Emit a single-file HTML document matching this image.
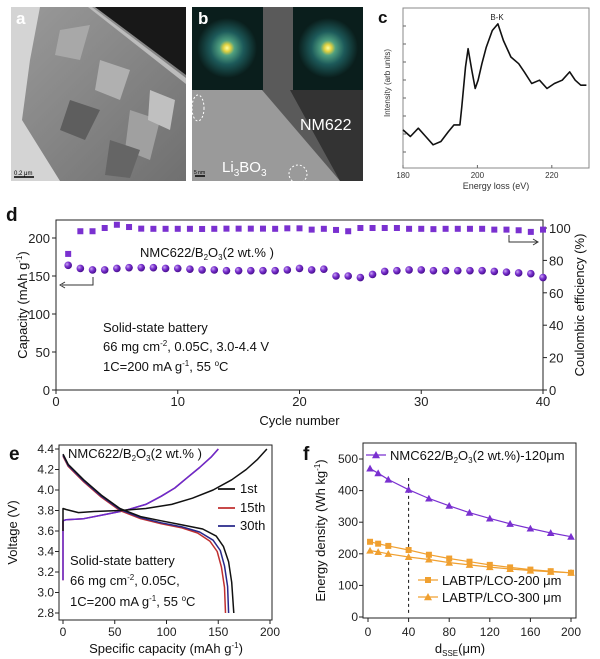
<!DOCTYPE html>
<html><head><meta charset="utf-8"><style>
html,body{margin:0;padding:0;background:#fff}
svg{display:block;font-family:"Liberation Sans",Arial,sans-serif}
</style></head><body>
<svg id="fig" width="600" height="659" viewBox="0 0 600 659" xmlns="http://www.w3.org/2000/svg">
<defs>
<radialGradient id="fft" cx="50%" cy="50%" r="50%"><stop offset="0" stop-color="#ffffa0"/><stop offset="0.12" stop-color="#e0d040"/><stop offset="0.25" stop-color="#50a080"/><stop offset="0.55" stop-color="#1d5a5a"/><stop offset="1" stop-color="#0a1e1c"/></radialGradient>
<radialGradient id="ball" cx="35%" cy="35%" r="65%"><stop offset="0" stop-color="#c9a8f0"/><stop offset="0.5" stop-color="#7a30d0"/><stop offset="1" stop-color="#4a1090"/></radialGradient>
<linearGradient id="agrad" x1="0" y1="0" x2="1" y2="1"><stop offset="0" stop-color="#9a9a9a"/><stop offset="1" stop-color="#707070"/></linearGradient>
</defs>

<g>
<rect x="11" y="7" width="175" height="174" fill="url(#agrad)"/>
<polygon points="11,7 40,7 30,60 22,120 60,181 11,181" fill="#d4d4d4"/>
<polygon points="95,7 186,7 186,75" fill="#181818"/>
<polygon points="92,7 186,78 186,84 88,7" fill="#bcbcbc"/>
<polygon points="60,30 90,25 80,60 55,55" fill="#a8a8a8"/>
<polygon points="100,60 130,70 120,100 95,90" fill="#b0b0b0"/>
<polygon points="70,100 100,110 85,140 60,130" fill="#5e5e5e"/>
<polygon points="130,110 160,120 150,160 125,150" fill="#a0a0a0"/>
<polygon points="110,140 140,150 130,178 105,175" fill="#656565"/>
<polygon points="150,90 175,100 170,130 148,120" fill="#c0c0c0"/>
<text x="16" y="24" font-size="17" font-weight="bold" fill="#fff">a</text>
<line x1="14" y1="177" x2="34" y2="177" stroke="#000" stroke-width="1.5"/>
<text x="14" y="175" font-size="6" fill="#000">0.2 μm</text>
</g>

<g>
<rect x="192" y="7" width="171" height="174" fill="#9a9a9a"/>
<polygon points="262,7 363,7 363,181 340,181 262,90" fill="#5a5a5a"/>
<polygon points="290,90 363,90 363,181 340,181" fill="#333"/>
<rect x="192" y="7" width="71" height="83" fill="#0a1e1c"/>
<circle cx="227" cy="48" r="30" fill="url(#fft)"/>
<rect x="293" y="7" width="70" height="83" fill="#0a1e1c"/>
<circle cx="328" cy="48" r="30" fill="url(#fft)"/>
<ellipse cx="198" cy="108" rx="6" ry="13" fill="none" stroke="#fff" stroke-dasharray="2,2"/>
<ellipse cx="298" cy="174" rx="9" ry="9" fill="none" stroke="#fff" stroke-dasharray="2,2"/>
<text x="198" y="24" font-size="17" font-weight="bold" fill="#fff">b</text>
<text x="300" y="130" font-size="16" fill="#fff">NM622</text>
<text x="222" y="172" font-size="15" fill="#fff">Li<tspan font-size="10" dy="4">3</tspan><tspan dy="-4">BO</tspan><tspan font-size="10" dy="4">3</tspan></text>
<line x1="195" y1="176" x2="205" y2="176" stroke="#000" stroke-width="1.5"/>
<text x="194" y="174" font-size="5" fill="#000">5 nm</text>
</g>

<g id="pc"></g>
<g id="pd"></g>
<g id="pe"></g>
<g id="pf"></g>
</svg>
<script>
const eelsEnergy=[180.0,182.0,184.1,186.1,188.1,190.2,192.2,193.7,195.3,195.8,196.8,197.5,198.5,199.4,200.2,201.2,202.4,204.0,205.5,207.0,209.0,211.1,212.6,214.6,216.7,218.7,220.7,222.8,224.8,226.3,227.8,229.3];
const eelsIntensity=[115,95,120,95,70,80,110,130,130,185,305,360,295,240,265,315,365,415,435,385,335,315,290,255,265,240,255,265,290,265,250,250];
const eelsTicks=[180,200,220];

const cycles=[1,2,3,4,5,6,7,8,9,10,11,12,13,14,15,16,17,18,19,20,21,22,23,24,25,26,27,28,29,30,31,32,33,34,35,36,37,38,39,40];
const capacity=[164,160,158,158,160,161,161,161,160,160,159,158,158,157,157,157,157,157,158,160,158,159,150,150,148,152,156,157,158,158,157,157,157,157,157,156,155,154,153,148];
const coulombic=[84,98,98,100,102,100.6,99.6,99.5,99.5,99.5,99.5,99.4,99.5,99.6,99.6,99.6,99.6,99.5,99.8,99.8,99,99.5,98.8,98,100,100,100,100,99.5,99.5,99.3,99.5,99.5,99.5,99.5,99,99,98.6,97.6,99];
const dXTicks=[0,10,20,30,40];
const dYTicks=[0,50,100,150,200];
const dY2Ticks=[0,20,40,60,80,100];

const ch1Cap=[0,0,3,15,30,55,80,105,125,145,163,177,188,197];
const ch1V=[3.6,3.82,3.81,3.78,3.79,3.80,3.82,3.86,3.92,4.00,4.10,4.20,4.30,4.40];
const chNCap=[0,0,3,20,40,60,80,95,108,120,132,143,150];
const chNV=[3.12,3.70,3.71,3.72,3.76,3.80,3.86,3.94,4.02,4.12,4.22,4.32,4.40];
const dis1Cap=[0,5,20,37,55,75,95,115,135,148,155,160,163,165];
const dis1V=[4.35,4.25,4.10,3.95,3.82,3.74,3.70,3.66,3.62,3.55,3.45,3.30,3.10,2.80];
const dis15Cap=[0,5,20,37,55,75,95,115,130,142,149,153,156,157];
const dis15V=[4.33,4.23,4.08,3.93,3.80,3.72,3.67,3.63,3.58,3.50,3.40,3.25,3.05,2.80];
const dis30Cap=[0,5,20,37,55,75,95,115,132,145,152,156,159,160];
const dis30V=[4.34,4.24,4.09,3.94,3.81,3.73,3.68,3.64,3.59,3.51,3.41,3.26,3.06,2.80];
const eXTicks=[0,50,100,150,200];
const eYTicks=[2.8,3.0,3.2,3.4,3.6,3.8,4.0,4.2,4.4];

const dSSE=[2,10,20,40,60,80,100,120,140,160,180,200];
const nmcEnergy=[470,455,435,403,375,352,330,312,295,280,266,254];
const lco200Energy=[238,232,225,212,197,185,175,165,157,150,145,140];
const lco300Energy=[210,206,200,190,182,172,165,158,152,147,143,140];
const fXTicks=[0,40,80,120,160,200];
const fYTicks=[0,100,200,300,400,500];

const NS="http://www.w3.org/2000/svg";
function mk(parent,tag,attrs,text){const e=document.createElementNS(NS,tag);for(const k in attrs)e.setAttribute(k,attrs[k]);if(text!==undefined)e.textContent=text;parent.appendChild(e);return e;}
function lin(d0,d1,r0,r1){return v=>r0+(v-d0)/(d1-d0)*(r1-r0);}
function path(xs,ys,fx,fy){return xs.map((x,i)=>(i?'L':'M')+fx(x).toFixed(1)+','+fy(ys[i]).toFixed(1)).join('');}

(function(){
const g=document.getElementById('pc');
const L=403,R=589,T=8,B=168;
const x=lin(180,230,L,R), y=lin(0,483,B,T);
let e=mk(g,'rect',{x:L,y:T,width:R-L,height:B-T,fill:'none',stroke:'#888','stroke-width':1});


eelsTicks.forEach(t=>{mk(g,'line',{x1:x(t),y1:B,x2:x(t),y2:B-3,stroke:'#666'});
 let tx=mk(g,'text',{x:x(t),y:B+10,'font-size':8,'text-anchor':'middle',fill:'#333'},t);
 
 });
for(let i=1;i<9;i++){mk(g,'line',{x1:L,y1:T+i*18,x2:L+3,y2:T+i*18,stroke:'#666'});}
let p=mk(g,'path',{d:path(eelsEnergy,eelsIntensity,x,y),fill:'none',stroke:'#111','stroke-width':1.6,'stroke-linejoin':'round'});


let t=mk(g,'text',{x:(L+R)/2,y:B+21,'font-size':9,'text-anchor':'middle',fill:'#333'},'Energy loss (eV)');


t=mk(g,'text',{x:0,y:0,'font-size':8,'text-anchor':'middle',fill:'#333',transform:`translate(${L-13},${(T+B)/2-5}) rotate(-90)`},'Intensity (arb units)');


t=mk(g,'text',{x:497,y:20,'font-size':8,'text-anchor':'middle',fill:'#222'},'B-K');


t=mk(g,'text',{x:378,y:23,'font-size':17,'font-weight':'bold',fill:'#111'},'c');


})();

(function(){
const g=document.getElementById('pd');
const L=56,R=543,T=220,B=390;
const x=lin(0,40,L,R), y=lin(0,200,B,238), y2=lin(0,100,B,228);
let e=mk(g,'rect',{x:L,y:T,width:R-L,height:B-T,fill:'none',stroke:'#222','stroke-width':1});


dXTicks.forEach(t=>{mk(g,'line',{x1:x(t),y1:B,x2:x(t),y2:B+4,stroke:'#222'});
 let tx=mk(g,'text',{x:x(t),y:B+16,'font-size':13,'text-anchor':'middle',fill:'#222'},t);
 
 });
dYTicks.forEach(t=>{mk(g,'line',{x1:L,y1:y(t),x2:L-4,y2:y(t),stroke:'#222'});
 let tx=mk(g,'text',{x:L-6,y:y(t)+5,'font-size':13,'text-anchor':'end',fill:'#222'},t);
 
 });
dY2Ticks.forEach(t=>{mk(g,'line',{x1:R,y1:y2(t),x2:R+4,y2:y2(t),stroke:'#222'});
 let tx=mk(g,'text',{x:R+6,y:y2(t)+5,'font-size':13,'text-anchor':'start',fill:'#222'},t);
 
 });
cycles.forEach((c,i)=>{
 let s=mk(g,'rect',{x:x(c)-3,y:y2(coulombic[i])-3,width:6,height:6,fill:'#7a30d0'});
 
 
 let b=mk(g,'circle',{cx:x(c),cy:y(capacity[i]),r:3.8,fill:'url(#ball)'});
 
 
});
mk(g,'path',{d:`M93,277 L93,285 L62,285`,fill:'none',stroke:'#333','stroke-width':1});
mk(g,'path',{d:`M65,282 L60,285 L65,288`,fill:'none',stroke:'#333','stroke-width':1});
mk(g,'path',{d:`M509,235 L509,242 L537,242`,fill:'none',stroke:'#333','stroke-width':1});
mk(g,'path',{d:`M533,239 L538,242 L533,245`,fill:'none',stroke:'#333','stroke-width':1});
let t=mk(g,'text',{x:140,y:257,'font-size':13,fill:'#111'});
t.innerHTML='NMC622/B<tspan font-size="8" dy="3">2</tspan><tspan dy="-3">O</tspan><tspan font-size="8" dy="3">3</tspan><tspan dy="-3">(2 wt.% )</tspan>';


t=mk(g,'text',{x:103,y:332,'font-size':13,fill:'#111'},'Solid-state battery');


t=mk(g,'text',{x:103,y:351,'font-size':13,fill:'#111'});
t.innerHTML='66 mg cm<tspan font-size="8" dy="-5">-2</tspan><tspan dy="5">, 0.05C, 3.0-4.4 V</tspan>';


t=mk(g,'text',{x:103,y:371,'font-size':13,fill:'#111'});
t.innerHTML='1C=200 mA g<tspan font-size="8" dy="-5">-1</tspan><tspan dy="5">, 55 </tspan><tspan font-size="8" dy="-5">o</tspan><tspan dy="5">C</tspan>';


t=mk(g,'text',{x:(L+R)/2,y:425,'font-size':13,'text-anchor':'middle',fill:'#111'},'Cycle number');


t=mk(g,'text',{x:0,y:0,'font-size':13,'text-anchor':'middle',fill:'#111',transform:`translate(27,${(T+B)/2}) rotate(-90)`});
t.innerHTML='Capacity (mAh g<tspan font-size="8" dy="-5">-1</tspan><tspan dy="5">)</tspan>';


t=mk(g,'text',{x:0,y:0,'font-size':13,'text-anchor':'middle',fill:'#111',transform:`translate(584,${(T+B)/2}) rotate(-90)`},'Coulombic efficiency (%)');


t=mk(g,'text',{x:6,y:221,'font-size':19,'font-weight':'bold',fill:'#111'},'d');


})();

(function(){
const g=document.getElementById('pe');
const L=59,R=272,T=445,B=620;
const x=lin(0,200,63,270), y=lin(2.8,4.4,613,449);
let e=mk(g,'rect',{x:L,y:T,width:R-L,height:B-T,fill:'none',stroke:'#222','stroke-width':1});


eXTicks.forEach(t=>{mk(g,'line',{x1:x(t),y1:B,x2:x(t),y2:B+4,stroke:'#222'});
 let tx=mk(g,'text',{x:x(t),y:636,'font-size':12,'text-anchor':'middle',fill:'#222'},t);
 
 });
eYTicks.forEach(t=>{mk(g,'line',{x1:L,y1:y(t),x2:L-4,y2:y(t),stroke:'#222'});
 let tx=mk(g,'text',{x:L-5,y:y(t)+4,'font-size':12,'text-anchor':'end',fill:'#222'},t.toFixed(1));
 
 });
const curves=[[chNCap,chNV,'#c03030','charge-15th-line'],[chNCap,chNV,'#6a2ad0','charge-30th-line'],[dis15Cap,dis15V,'#c03030','discharge-15th-line'],[dis30Cap,dis30V,'#28288a','discharge-30th-line'],[ch1Cap,ch1V,'#111','charge-1st-line'],[dis1Cap,dis1V,'#111','discharge-1st-line']];
curves.forEach(c=>{let p=mk(g,'path',{d:path(c[0],c[1],x,y),fill:'none',stroke:c[2],'stroke-width':1.5,'stroke-linejoin':'round'});
 
 });
[['1st','#111',493],['15th','#c03030',512],['30th','#28288a',530]].forEach(l=>{
 let ln=mk(g,'line',{x1:218,y1:l[2]-4,x2:235,y2:l[2]-4,stroke:l[1],'stroke-width':1.8});
 
 
 let tx=mk(g,'text',{x:240,y:l[2],'font-size':13,fill:'#111'},l[0]);
 
 });
let t=mk(g,'text',{x:68,y:458,'font-size':13,fill:'#111'});
t.innerHTML='NMC622/B<tspan font-size="8" dy="3">2</tspan><tspan dy="-3">O</tspan><tspan font-size="8" dy="3">3</tspan><tspan dy="-3">(2 wt.% )</tspan>';


t=mk(g,'text',{x:70,y:565,'font-size':13,fill:'#111'},'Solid-state battery');


t=mk(g,'text',{x:70,y:585,'font-size':13,fill:'#111'});
t.innerHTML='66 mg cm<tspan font-size="8" dy="-5">-2</tspan><tspan dy="5">, 0.05C,</tspan>';


t=mk(g,'text',{x:70,y:606,'font-size':13,fill:'#111'});
t.innerHTML='1C=200 mA g<tspan font-size="8" dy="-5">-1</tspan><tspan dy="5">, 55 </tspan><tspan font-size="8" dy="-5">o</tspan><tspan dy="5">C</tspan>';


t=mk(g,'text',{x:166,y:653,'font-size':13,'text-anchor':'middle',fill:'#111'});
t.innerHTML='Specific capacity (mAh g<tspan font-size="8" dy="-5">-1</tspan><tspan dy="5">)</tspan>';


t=mk(g,'text',{x:0,y:0,'font-size':13,'text-anchor':'middle',fill:'#111',transform:`translate(17,${(T+B)/2}) rotate(-90)`},'Voltage (V)');


t=mk(g,'text',{x:9,y:460,'font-size':19,'font-weight':'bold',fill:'#111'},'e');


})();

(function(){
const g=document.getElementById('pf');
const L=363,R=576,T=443,B=618;
const x=lin(0,200,368,571), y=lin(0,500,617,459);
let e=mk(g,'rect',{x:L,y:T,width:R-L,height:B-T,fill:'none',stroke:'#222','stroke-width':1});


fXTicks.forEach(t=>{mk(g,'line',{x1:x(t),y1:B,x2:x(t),y2:B+4,stroke:'#222'});
 let tx=mk(g,'text',{x:x(t),y:636,'font-size':12,'text-anchor':'middle',fill:'#222'},t);
 
 });
fYTicks.forEach(t=>{mk(g,'line',{x1:L,y1:y(t),x2:L-4,y2:y(t),stroke:'#222'});
 let tx=mk(g,'text',{x:L-5,y:y(t)+4,'font-size':12,'text-anchor':'end',fill:'#222'},t);
 
 });
let d=mk(g,'line',{x1:x(40),y1:y(13),x2:x(40),y2:y(440),stroke:'#111','stroke-dasharray':'3,3'});


function tri(cx,cy,col,s){return mk(g,'polygon',{points:`${cx},${cy-s} ${cx-s},${cy+s*0.8} ${cx+s},${cy+s*0.8}`,fill:col});}
const series=[[nmcEnergy,'#7a30d0','tri','nmc622-series'],[lco200Energy,'#f0a030','sq','labtp-lco-200-series'],[lco300Energy,'#f0a030','tri','labtp-lco-300-series']];
series.forEach(s=>{
 let p=mk(g,'path',{d:path(dSSE,s[0],x,y),fill:'none',stroke:s[1],'stroke-width':1.2});
 
 
 dSSE.forEach((v,i)=>{let m;
  if(s[2]==='sq'){m=mk(g,'rect',{x:x(v)-3,y:y(s[0][i])-3,width:6,height:6,fill:s[1]});}
  else{m=tri(x(v),y(s[0][i]),s[1],3.8);}
  
  });
});
mk(g,'line',{x1:366,y1:455,x2:386,y2:455,stroke:'#7a30d0','stroke-width':1.2});
tri(376,455,'#7a30d0',4);
let t=mk(g,'text',{x:390,y:460,'font-size':13,fill:'#111'});
t.innerHTML='NMC622/B<tspan font-size="8" dy="3">2</tspan><tspan dy="-3">O</tspan><tspan font-size="8" dy="3">3</tspan><tspan dy="-3">(2 wt.%)-120μm</tspan>';


mk(g,'line',{x1:418,y1:580,x2:438,y2:580,stroke:'#f0a030','stroke-width':1.2});
mk(g,'rect',{x:425,y:577,width:6,height:6,fill:'#f0a030'});
t=mk(g,'text',{x:442,y:585,'font-size':13,fill:'#111'},'LABTP/LCO-200 μm');


mk(g,'line',{x1:418,y1:597,x2:438,y2:597,stroke:'#f0a030','stroke-width':1.2});
tri(428,597,'#f0a030',4);
t=mk(g,'text',{x:442,y:602,'font-size':13,fill:'#111'},'LABTP/LCO-300 μm');


t=mk(g,'text',{x:460,y:653,'font-size':13,'text-anchor':'middle',fill:'#111'});
t.innerHTML='d<tspan font-size="8" dy="3">SSE</tspan><tspan dy="-3">(μm)</tspan>';


t=mk(g,'text',{x:0,y:0,'font-size':13,'text-anchor':'middle',fill:'#111',transform:`translate(325,${(T+B)/2}) rotate(-90)`});
t.innerHTML='Energy density (Wh kg<tspan font-size="8" dy="-5">-1</tspan><tspan dy="5">)</tspan>';


t=mk(g,'text',{x:303,y:460,'font-size':19,'font-weight':'bold',fill:'#111'},'f');


})();
</script>
</body></html>
